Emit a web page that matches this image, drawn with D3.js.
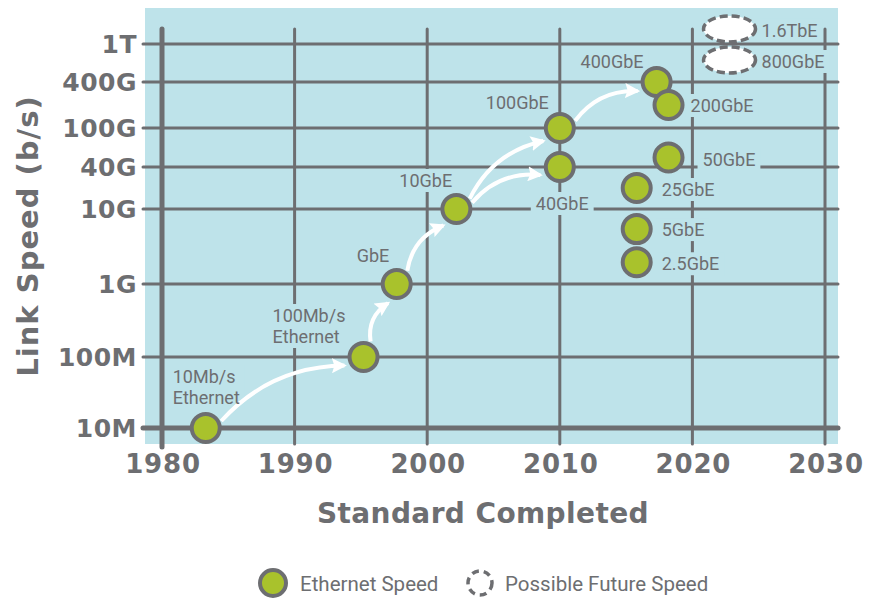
<!DOCTYPE html>
<html lang="en"><head>
<meta charset="UTF-8">
<title>Ethernet Speeds</title>
<script src="https://cdn.jsdelivr.net/npm/d3@7"></script>
<style type="text/css">
body { margin: 0; background: #fff; }
.lbl { font-family: "Roboto", sans-serif; font-size: 18px; fill: #6d6e71; }
.big { font-family: "DejaVu Sans", sans-serif; font-weight: bold; fill: #6d6e71; }
</style>
</head>
<body>
<script type="text/javascript">

var width = 871;
var height = 601;
var gray = "#6d6e71";
var blue = "#bee3ea";
var green = "#a9c22c";

// tick values
var yearTicks = [1980, 1990, 2000, 2010, 2020, 2030];
var speedTicks = [1e7, 1e8, 1e9, 1e10, 4e10, 1e11, 4e11, 1e12];
var speedTickLabels = ["10M", "100M", "1G", "10G", "40G", "100G", "400G", "1T"];

// standards (year completed, speed b/s as placed on the chart)
var stdNames = ["10Mb/s\nEthernet", "100Mb/s\nEthernet", "GbE", "10GbE", "100GbE", "40GbE", "400GbE", "200GbE", "50GbE", "25GbE", "5GbE", "2.5GbE"];
var stdYears = [1983.3, 1995.2, 1997.7, 2002.2, 2010, 2010, 2017.3, 2018.2, 2018.2, 2015.8, 2015.8, 2015.8];
var stdSpeeds = [1e7, 1e8, 1e9, 1e10, 1e11, 4e10, 4e11, 2e11, 5e10, 2e10, 5.4e9, 1.95e9];

// possible future speeds
var futNames = ["1.6TbE", "800GbE"];
var futYears = [2022.8, 2022.8];
var futSpeeds = [1.44e12, 6.8e11];

// arrows between standards (index pairs)
var arrowPairs = [[0, 1], [1, 2], [2, 3], [3, 4], [3, 5], [4, 6]];

// label offsets from the point
var stdDx = [-33, -91, -40, -57, -74, -24, -76, 22, 34, 25, 25, 25];
var stdDy = [-45, -35, -22, -22, -19, 43, -14, 7, 8, 8, 7, 8];

var svg = d3.select("body").append("svg")
  .attr("width", width)
  .attr("height", height);

var x = d3.scaleLinear().domain([1980, 2030]).range([162, 825]);
var y = d3.scaleLog().domain(speedTicks).range([428, 357, 284, 209, 167, 128, 82, 44]);

var defs = svg.append("defs");
defs.append("marker")
  .attr("id", "head")
  .attr("markerUnits", "userSpaceOnUse")
  .attr("viewBox", "0 0 12 12")
  .attr("refX", 10).attr("refY", 6)
  .attr("markerWidth", 15).attr("markerHeight", 15)
  .attr("orient", "auto")
  .append("path")
  .attr("d", "M0,0 L12,6 L0,12 L2,6 Z")
  .attr("fill", "#fff");

// plot background
svg.append("rect")
  .attr("x", 145).attr("y", 8)
  .attr("width", 693).attr("height", 436)
  .attr("fill", blue);

// grid
svg.append("g").selectAll("line")
  .data(speedTicks).enter()
  .append("line")
  .attr("x1", 143).attr("x2", 838)
  .attr("y1", function(d){ return y(d); })
  .attr("y2", function(d){ return y(d); })
  .attr("stroke", gray)
  .attr("stroke-width", function(d, i){ return i == 0 ? 5 : 3; })
  .attr("stroke-linecap", "round");

svg.append("g").selectAll("line")
  .data(yearTicks).enter()
  .append("line")
  .attr("x1", function(d){ return x(d); })
  .attr("x2", function(d){ return x(d); })
  .attr("y1", 29)
  .attr("y2", function(d, i){ return i == 0 ? 447 : 444; })
  .attr("stroke", gray)
  .attr("stroke-width", function(d, i){ return i == 0 ? 5 : 3; })
  .attr("stroke-linecap", "round");

// tick labels
svg.append("g").selectAll("text")
  .data(speedTicks).enter()
  .append("text")
  .attr("class", "big")
  .attr("x", 137)
  .attr("y", function(d){ return y(d); })
  .attr("dy", "0.36em")
  .attr("text-anchor", "end")
  .attr("font-size", 25)
  .attr("letter-spacing", 0.5)
  .text(function(d, i){ return speedTickLabels[i]; });

svg.append("g").selectAll("text")
  .data(yearTicks).enter()
  .append("text")
  .attr("class", "big")
  .attr("x", function(d){ return x(d) + 1; })
  .attr("y", 473)
  .attr("text-anchor", "middle")
  .attr("font-size", 26)
  .attr("letter-spacing", 0.8)
  .text(function(d){ return d; });

svg.append("text")
  .attr("class", "big")
  .attr("x", 483).attr("y", 523)
  .attr("text-anchor", "middle")
  .attr("font-size", 28)
  .attr("letter-spacing", 0.4)
  .text("Standard Completed");

svg.append("text")
  .attr("class", "big")
  .attr("transform", "translate(38,236) rotate(-90)")
  .attr("text-anchor", "middle")
  .attr("font-size", 29)
  .attr("letter-spacing", 1)
  .text("Link Speed (b/s)");

var backLayer = svg.append("g");
var arrowLayer = svg.append("g");
var markLayer = svg.append("g");
var textLayer = svg.append("g");

// points data
var points = stdNames.map(function(n, i){
  return {name: n, year: stdYears[i], speed: stdSpeeds[i], dx: stdDx[i], dy: stdDy[i]};
});
var future = futNames.map(function(n, i){
  return {name: n, year: futYears[i], speed: futSpeeds[i], dx: 32, dy: 8};
});

// arrows
arrowLayer.selectAll("path")
  .data(arrowPairs).enter()
  .append("path")
  .attr("fill", "none")
  .attr("stroke", "#fff")
  .attr("stroke-width", 4)
  .attr("marker-end", "url(#head)")
  .attr("d", function(p){
    var a = points[p[0]], b = points[p[1]];
    var x0 = x(a.year), y0 = y(a.speed), x1 = x(b.year), y1 = y(b.speed);
    var len = Math.sqrt((x1-x0)*(x1-x0) + (y1-y0)*(y1-y0));
    var ux = (x1-x0)/len, uy = (y1-y0)/len;
    var sx = x0 + ux*17, sy = y0 + uy*17;
    var ex = x1 - ux*21, ey = y1 - uy*21;
    var mx = (sx+ex)/2, my = (sy+ey)/2;
    var k = 0.17 * len;
    var cx = mx + uy*k, cy = my - ux*k;
    return "M" + sx + "," + sy + " Q" + cx + "," + cy + " " + ex + "," + ey;
  });

// future ellipses
markLayer.selectAll("ellipse")
  .data(future).enter()
  .append("ellipse")
  .attr("cx", function(d){ return x(d.year); })
  .attr("cy", function(d){ return y(d.speed); })
  .attr("rx", 26).attr("ry", 13)
  .attr("fill", "#fff")
  .attr("stroke", gray)
  .attr("stroke-width", 3.5)
  .attr("stroke-dasharray", "8,4");

// standard circles
markLayer.selectAll("circle")
  .data(points).enter()
  .append("circle")
  .attr("cx", function(d){ return x(d.year); })
  .attr("cy", function(d){ return y(d.speed); })
  .attr("r", 14)
  .attr("fill", green)
  .attr("stroke", gray)
  .attr("stroke-width", 4);

// labels
var labels = textLayer.selectAll("text")
  .data(points.concat(future)).enter()
  .append("text")
  .attr("class", "lbl")
  .attr("x", function(d){ return x(d.year) + d.dx; })
  .attr("y", function(d){ return y(d.speed) + d.dy; });

labels.selectAll("tspan")
  .data(function(d){ return d.name.split("\n").map(function(s){ return {s: s, x: x(d.year) + d.dx}; }); })
  .enter()
  .append("tspan")
  .attr("x", function(d){ return d.x; })
  .attr("dy", function(d, i){ return i == 0 ? 0 : 21; })
  .text(function(d){ return d.s; });

// knock out grid lines behind labels
labels.each(function(){
  var b = this.getBBox();
  backLayer.append("rect")
    .attr("x", b.x - 5).attr("y", b.y - 1)
    .attr("width", b.width + 10).attr("height", b.height + 2)
    .attr("fill", blue);
});

// legend
var legend = svg.append("g");
legend.append("circle")
  .attr("cx", 273).attr("cy", 583).attr("r", 13)
  .attr("fill", green).attr("stroke", gray).attr("stroke-width", 4);
legend.append("text")
  .attr("class", "lbl").style("font-size", "20.5px")
  .attr("x", 300).attr("y", 591)
  .text("Ethernet Speed");
legend.append("circle")
  .attr("cx", 480).attr("cy", 583).attr("r", 12)
  .attr("fill", "none").attr("stroke", gray).attr("stroke-width", 3.5)
  .attr("stroke-dasharray", "7,5");
legend.append("text")
  .attr("class", "lbl").style("font-size", "20.5px")
  .attr("x", 505).attr("y", 591)
  .text("Possible Future Speed");

</script>
</body></html>
